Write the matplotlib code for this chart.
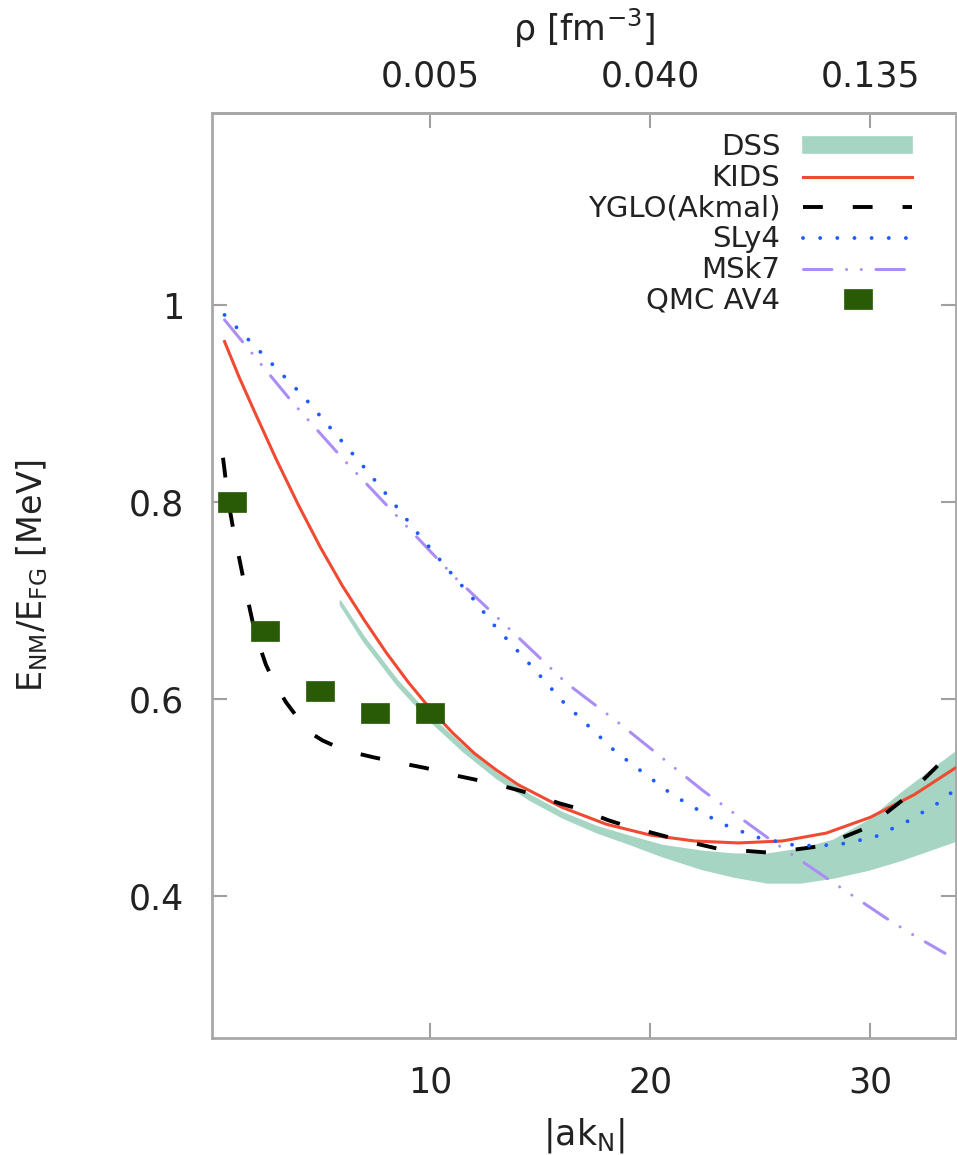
import numpy as np
import matplotlib.pyplot as plt

plt.rcParams['font.family'] = 'DejaVu Sans'
plt.rcParams['mathtext.default'] = 'regular'

# |a k_N| values, one list per model
kids_x = [0.64, 1.3, 2, 3, 4, 5, 6, 7, 8, 9, 10, 11, 12, 13, 14, 16, 18, 20, 22, 24, 26, 28, 30, 32, 34]
kids_y = [0.963, 0.927, 0.892, 0.843, 0.797, 0.754, 0.715, 0.680, 0.647, 0.617, 0.590, 0.566, 0.545,
          0.528, 0.513, 0.490, 0.473, 0.462, 0.456, 0.454, 0.456, 0.464, 0.480, 0.503, 0.532]

yglo_x = [0.57, 0.82, 1.0, 1.2, 1.57, 1.95, 2.2, 2.52, 2.9, 3.43, 4.0, 4.6, 5.1, 5.6, 6.65, 7.4, 8.9,
          9.8, 11.25, 12.1, 13.6, 14.4, 15.9, 16.7, 18.1, 18.8, 20.8, 23.1, 25.5, 27.8, 29.9, 31.5,
          33.0, 33.9]
yglo_y = [0.845, 0.800, 0.777, 0.755, 0.714, 0.675, 0.656, 0.635, 0.617, 0.597, 0.580, 0.565, 0.558,
          0.553, 0.545, 0.541, 0.534, 0.530, 0.522, 0.518, 0.510, 0.505, 0.494, 0.489, 0.477, 0.472,
          0.46, 0.448, 0.444, 0.451, 0.47, 0.498, 0.531, 0.553]

sly4_x = [0.64, 4.2, 7.0, 8.4, 9.4, 10.9, 11.9, 12.9, 14.7, 16.0, 18.4, 21.0, 23.2, 24.8, 26.7, 28.5,
          30.2, 31.7, 33.2, 33.9]
sly4_y = [0.99, 0.908, 0.835, 0.797, 0.769, 0.729, 0.703, 0.675, 0.631, 0.598, 0.547, 0.503, 0.474,
          0.46, 0.451, 0.452, 0.46, 0.476, 0.496, 0.509]

msk7_x = [0.64, 3.7, 6.1, 11.1, 16.2, 18.5, 22.4, 25.6, 28.7, 30.7, 32.0, 33.4]
msk7_y = [0.985, 0.902, 0.842, 0.724, 0.616, 0.577, 0.507, 0.455, 0.408, 0.378, 0.360, 0.342]

dss_x = [5.89, 6.95, 8.46, 9.98, 11.49, 13.0, 14.5, 16.0, 17.55, 19.07, 20.5, 22.3, 23.8, 25.3, 26.8,
         28.3, 29.9, 31.4, 33.95]
dss_hi = [0.700, 0.664, 0.620, 0.583, 0.552, 0.525, 0.503, 0.485, 0.471, 0.461, 0.452, 0.446, 0.443,
          0.443, 0.448, 0.457, 0.477, 0.505, 0.548]
dss_lo = [0.696, 0.659, 0.615, 0.578, 0.547, 0.520, 0.498, 0.480, 0.465, 0.453, 0.441, 0.428, 0.420,
          0.414, 0.414, 0.419, 0.427, 0.437, 0.457]

qmc_x = [1.0, 2.5, 5.0, 7.5, 10.0]
qmc_y = [0.80, 0.669, 0.608, 0.586, 0.586]

x_ticks = [10, 20, 30]
rho_labels = ['0.005', '0.040', '0.135']
y_ticks = [0.4, 0.6, 0.8, 1.0]
y_labels = ['0.4', '0.6', '0.8', '1']

W, H = 957, 1155
fig = plt.figure(figsize=(W / 100, H / 100), dpi=100)
ax = fig.add_axes([212 / W, 1 - 1038 / H, (956 - 212) / W, (1038 - 113) / H])

ax.fill_between(dss_x, dss_lo, dss_hi, color='#a6d5c4', lw=1.2, edgecolor='#a6d5c4', zorder=1, label='DSS')
ax.plot(kids_x, kids_y, color='#f04a32', lw=2.2, zorder=3, label='KIDS')
ax.plot(yglo_x, yglo_y, color='black', lw=2.8, dashes=(5.1, 7.7), zorder=4, label='YGLO(Akmal)')
ax.plot(msk7_x, msk7_y, color='#ab8ef5', lw=2.2, dashes=(9.3, 4.8, 0.01, 4.8, 0.01, 4.8),
        dash_capstyle='round', zorder=5, label='MSk7')
ax.plot(sly4_x, sly4_y, color='#1f5bff', lw=2.8, dashes=(0.01, 4.4), dash_capstyle='round',
        zorder=6, label='SLy4')
rect = [(-1.4, -1), (1.4, -1), (1.4, 1), (-1.4, 1), (-1.4, -1)]
ax.plot(qmc_x, qmc_y, ls='none', marker=rect, markersize=20, color='#295a05', mec='#295a05', mew=0.5,
        zorder=7, label='QMC AV4')

ax.set_xlim(0.07, 33.9)
ax.set_ylim(0.256, 1.195)

ax.set_xticks(x_ticks)
ax.set_yticks(y_ticks, labels=y_labels)
ax.tick_params(direction='in', length=11, width=1.5, color='#a0a0a0', labelcolor='#222222',
               labelsize=25, pad=20, right=True)
for s in ax.spines.values():
    s.set_color('#a8a8a8')
    s.set_linewidth(2)

top = ax.secondary_xaxis('top')
top.set_xticks(x_ticks, labels=rho_labels)
top.tick_params(direction='in', length=11, width=1.5, color='#a0a0a0', labelcolor='#222222',
                labelsize=25, pad=14)
top.spines['top'].set_color('#a8a8a8')
top.spines['top'].set_linewidth(2)
ax.text(0.5, 1.068, r'ρ [fm$^{-3}$]', transform=ax.transAxes, ha='center', va='bottom',
        fontsize=25, color='#222222')

ax.set_xlabel(r'|ak$_{N}$|', fontsize=25, color='#222222')
ax.xaxis.set_label_coords(0.5, -0.084)
ax.set_ylabel(r'E$_{NM}$/E$_{FG}$ [MeV]', fontsize=24, color='#222222')
ax.yaxis.set_label_coords(-0.218, 0.5)

handles, labels = ax.get_legend_handles_labels()
order = ['DSS', 'KIDS', 'YGLO(Akmal)', 'SLy4', 'MSk7', 'QMC AV4']
hmap = dict(zip(labels, handles))
ax.legend([hmap[k] for k in order], order, loc='upper right', bbox_to_anchor=(0.941, 0.978),
          frameon=False, fontsize=21, markerfirst=False, borderpad=0, borderaxespad=0,
          handlelength=3.73, handletextpad=0.79, labelspacing=0.09, handleheight=0.48,
          numpoints=1, labelcolor='#222222')

fig.savefig('out.png', dpi=100)
